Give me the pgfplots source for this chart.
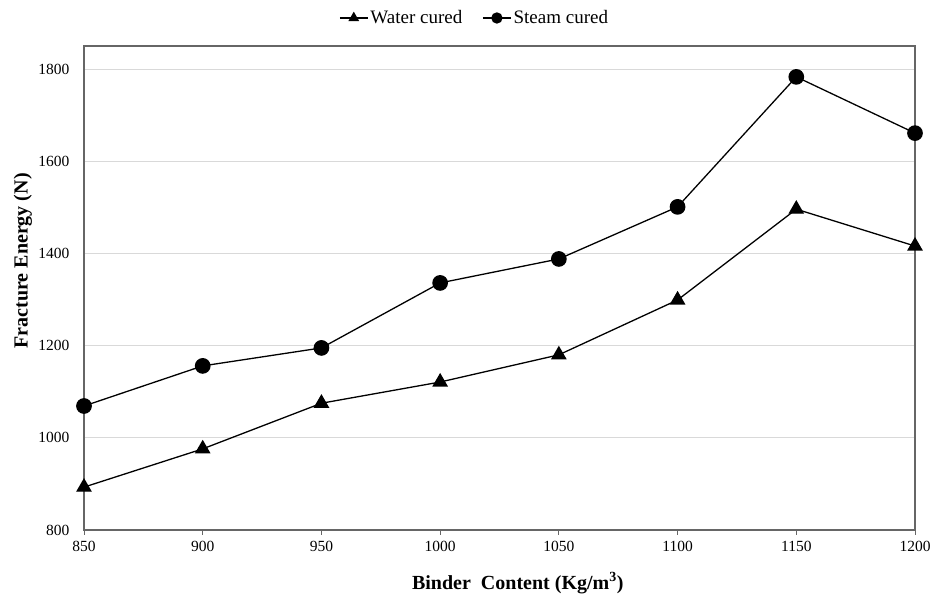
\documentclass[border=0pt]{standalone}
\usepackage{pgfplots}
\pgfplotsset{compat=1.18}
\usepackage{fontspec}
\setmainfont{Liberation Serif}

\begin{document}
\begin{tikzpicture}
\begin{axis}[
  name=ax,
  scale only axis,
  width=831pt, height=484pt,
  xmin=850, xmax=1200,
  ymin=800, ymax=1850,
  xtick={850,900,...,1200},
  ytick={800,1000,...,1800},
  ymajorgrids=true,
  grid style={gray!30, line width=0.8pt},
  axis line style={gray!80!black, line width=1.1pt},
  x tick style={gray!80!black, line width=0.9pt},
  y tick style={draw=none},
  tick align=outside,
  major tick length=5pt,
  xtick pos=bottom,
  ytick pos=left,
  /pgf/number format/assume math mode=true,
  /pgf/number format/1000 sep={},
  tick label style={font=\fontsize{15.5}{15.5}\selectfont},
  yticklabel style={xshift=-6pt},
  xticklabel style={yshift=-3pt},
  xlabel={\textbf{Binder\ \ Content (Kg/m\textsuperscript{3})}},
  ylabel={\textbf{Fracture Energy (N)}},
  label style={font=\fontsize{20}{20}\selectfont},
  xlabel style={at={(axis description cs:0.522,0)}, anchor=center, yshift=-53pt},
  ylabel style={at={([xshift=-61pt]axis description cs:0,0.556)}, anchor=center},
  legend style={at={(axis description cs:0.47,1)}, anchor=center, yshift=28pt,
    draw=none, fill=none, inner sep=0pt,
    nodes={inner xsep=2pt},
    font=\fontsize{19}{19}\selectfont, legend columns=2,
    /tikz/every even column/.append style={column sep=18pt}},
  legend image code/.code={
    \draw[#1, mark=none] (0pt,0pt) -- (28pt,0pt);
    \draw[#1, mark size=5pt] plot coordinates {(14pt,0pt)};
  },
]
\addplot[black, line width=1.3pt, mark=triangle*, mark size=7.8pt]
  coordinates {(850,893) (900,976) (950,1075) (1000,1121) (1050,1180) (1100,1299) (1150,1496) (1200,1416)};
\addplot[black, line width=1.3pt, mark=*, mark size=7.2pt]
  coordinates {(850,1069) (900,1156) (950,1195) (1000,1336) (1050,1388) (1100,1501) (1150,1783) (1200,1661)};
\legend{Water cured, Steam cured}
\end{axis}
\pgfresetboundingbox
\path ([shift={(-84pt,-69pt)}]ax.south west) rectangle ([shift={(20pt,46pt)}]ax.north east);
\end{tikzpicture}
\end{document}
